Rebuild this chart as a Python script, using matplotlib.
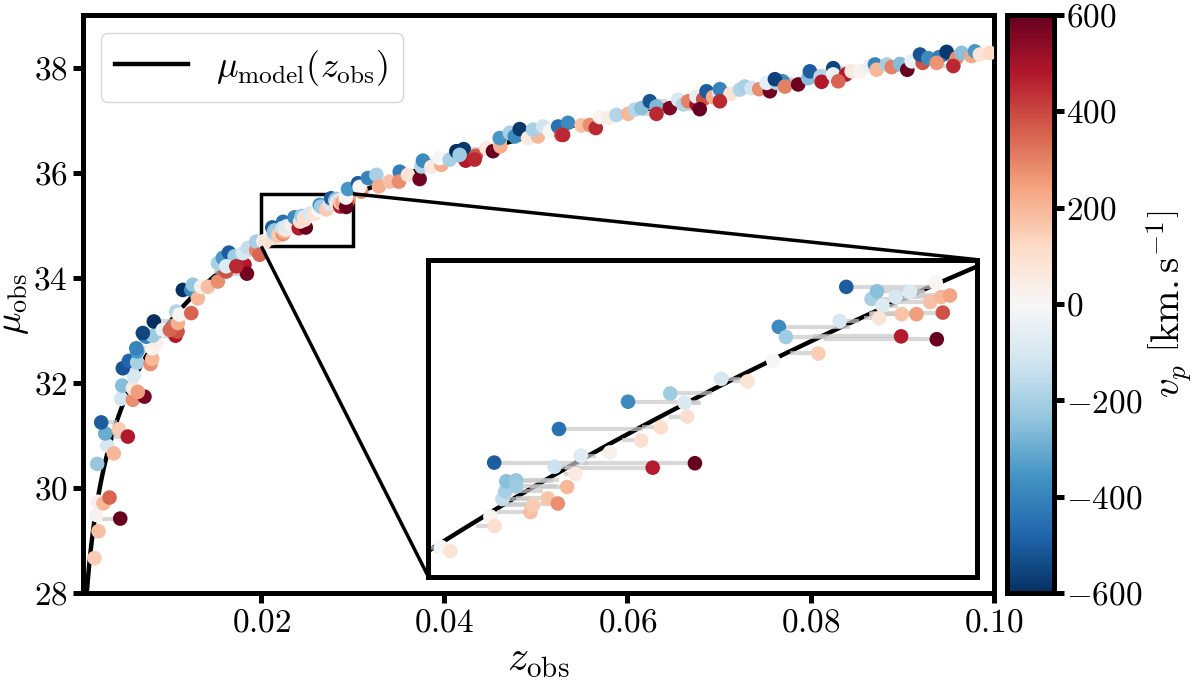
import numpy as np
import matplotlib
matplotlib.use('Agg')
import matplotlib.pyplot as plt
from mpl_toolkits.axes_grid1.inset_locator import mark_inset

plt.rcParams['font.family'] = 'serif'
plt.rcParams['font.serif'] = ['cmr10']
plt.rcParams['mathtext.fontset'] = 'cm'
plt.rcParams['axes.formatter.use_mathtext'] = True

z_low = [0.00178, 0.00222, 0.00197, 0.00459, 0.00214, 0.00276, 0.00342, 0.00207, 0.00317, 0.00389,
         0.00295, 0.00251, 0.00444, 0.00542, 0.00470, 0.00597, 0.00724, 0.00481, 0.00597, 0.00651,
         0.00607, 0.00487, 0.00553, 0.00644, 0.00644, 0.00790, 0.00809, 0.00809, 0.00852, 0.00724,
         0.00743, 0.00815, 0.01063, 0.01085, 0.00634, 0.00706, 0.00826, 0.00924, 0.01001, 0.01089,
         0.01071, 0.01107, 0.01235, 0.01143, 0.01235, 0.01252, 0.01307, 0.01344, 0.01416, 0.01526,
         0.01617, 0.01526, 0.01580, 0.01646, 0.01708, 0.01617, 0.01817, 0.01843, 0.01727, 0.01799,
         0.01854, 0.01945, 0.01945, 0.01981]
mu_low = [28.67, 29.18, 29.49, 29.42, 29.74, 29.71, 29.82, 30.46, 30.81, 30.66,
          31.04, 31.25, 31.12, 30.98, 31.70, 31.68, 31.74, 31.95, 31.90, 31.83,
          32.14, 32.28, 32.42, 32.39, 32.60, 32.36, 32.46, 32.66, 32.76, 32.91,
          32.88, 32.90, 32.90, 32.98, 32.66, 32.95, 33.17, 33.01, 33.01, 33.14,
          33.36, 33.30, 33.33, 33.77, 33.77, 33.87, 33.61, 33.83, 33.83, 33.93,
          34.12, 34.28, 34.38, 34.48, 34.41, 34.22, 34.25, 34.08, 34.22, 34.47,
          34.57, 34.53, 34.69, 34.44]
v_low = [150, 180, 20, 600, 30, 200, 350, -230, -100, 200,
         -300, -500, 150, 480, -120, 280, 570, -260, 60, 250,
         -100, -520, -480, -200, -350, 280, 200, 20, 30, -500,
         -400, -220, 480, 380, -400, -550, -600, -50, 350, 220,
         -180, 10, 350, -600, -380, -230, 200, 30, 180, 280,
         380, -200, -350, -500, -220, -80, 480, 580, 450, -100,
         -150, 300, -200, 350]

# points inside the zoomed window (0.02 < z < 0.03)
z_mid = [0.02023, 0.02040, 0.02113, 0.02121, 0.02120, 0.02135, 0.02140, 0.02142, 0.02160, 0.02160,
         0.02186, 0.02191, 0.02218, 0.02236, 0.02253, 0.02238, 0.02230, 0.02268, 0.02278, 0.02331,
         0.02388, 0.02409, 0.02486, 0.02364, 0.02424, 0.02441, 0.02467, 0.02472, 0.02534, 0.02582,
         0.02629, 0.02639, 0.02652, 0.02711, 0.02750, 0.02762, 0.02808, 0.02818, 0.02828, 0.02822,
         0.02852, 0.02878, 0.02862, 0.02863, 0.02890, 0.02915, 0.02935, 0.02951, 0.02938, 0.02927,
         0.02925]
mu_mid = [34.694, 34.681, 34.790, 34.760, 34.960, 34.845, 34.869, 34.901, 34.904, 34.885,
          34.804, 34.826, 34.847, 34.831, 34.883, 35.066, 34.947, 34.924, 34.982, 34.992,
          35.030, 34.944, 34.958, 35.152, 35.071, 35.178, 35.149, 35.105, 35.224, 35.216,
          35.281, 35.388, 35.356, 35.304, 35.406, 35.514, 35.476, 35.500, 35.455, 35.415,
          35.482, 35.498, 35.358, 35.428, 35.428, 35.466, 35.482, 35.487, 35.433, 35.349,
          35.528]
v_mid = [0, 80, 10, 100, -500, -150, -200, -250, -230, -220,
         180, 150, 170, 280, 200, -450, -130, 60, -80, 30,
         100, 470, 600, -380, 100, -220, -90, 100, -100, 80,
         0, -380, -220, 150, -100, -500, -200, -250, -80, 80,
         -100, -80, 470, 170, 250, 180, 200, 240, 380, 600,
         10]

z_high = [0.02947, 0.03056, 0.03093, 0.03074, 0.03165, 0.03257, 0.03285, 0.03402, 0.03512, 0.03504,
          0.03602, 0.03730, 0.03749, 0.03766, 0.03858, 0.03967, 0.03949, 0.04058, 0.04131, 0.04211,
          0.04233, 0.04167, 0.04342, 0.04331, 0.04459, 0.04531, 0.04605, 0.04612, 0.04605, 0.04714,
          0.04769, 0.04823, 0.04914, 0.05023, 0.04969, 0.05078, 0.05151, 0.05242, 0.05279,
          0.05351, 0.05297, 0.05498, 0.05589, 0.05654, 0.05698, 0.05789, 0.05880, 0.06007, 0.06080,
          0.06153, 0.06244, 0.06317, 0.06317, 0.06463, 0.06554, 0.06609, 0.06663, 0.06755, 0.06755,
          0.06827, 0.06864, 0.06936, 0.07002, 0.07010, 0.07126, 0.07228, 0.07283, 0.07356, 0.07439,
          0.07556, 0.07520, 0.07629, 0.07695, 0.07611, 0.06790, 0.07010,
          0.07720, 0.07865, 0.07975, 0.07993, 0.08110, 0.08121, 0.08248, 0.08248, 0.08387, 0.08449,
          0.08540, 0.08649, 0.08704, 0.08722, 0.08832, 0.08886, 0.08977, 0.09057, 0.09105, 0.09225,
          0.09196, 0.09286, 0.09406, 0.09378, 0.09487, 0.09596, 0.09651, 0.09760, 0.09796, 0.09850,
          0.09959, 0.08303, 0.09560]
mu_high = [35.69, 35.80, 35.64, 35.73, 35.90, 35.96, 35.74, 35.83, 36.02, 35.83,
           35.96, 35.88, 36.12, 36.23, 36.11, 36.15, 36.28, 36.25, 36.41, 36.45,
           36.23, 36.34, 36.32, 36.25, 36.47, 36.41, 36.57, 36.50, 36.66, 36.76,
           36.69, 36.83, 36.66, 36.69, 36.82, 36.88, 36.79, 36.88, 36.72,
           36.95, 36.72, 36.90, 36.91, 36.85, 37.06, 37.04, 37.10, 37.12, 37.20,
           37.23, 37.36, 37.26, 37.12, 37.23, 37.39, 37.30, 37.36, 37.30, 37.45,
           37.40, 37.55, 37.44, 37.52, 37.59, 37.50, 37.58, 37.64, 37.61, 37.59,
           37.55, 37.71, 37.71, 37.74, 37.78, 37.21, 37.36,
           37.64, 37.68, 37.80, 37.93, 37.83, 37.73, 37.99, 37.87, 37.87, 37.93,
           37.93, 38.03, 38.06, 37.96, 38.06, 38.01, 38.07, 37.96, 38.12, 38.09,
           38.25, 38.18, 38.20, 38.09, 38.30, 38.18, 38.28, 38.22, 38.31, 38.25,
           38.28, 37.74, 38.03]
v_high = [-350, -500, 280, 0, -400, -200, 220, 180, -420, 280,
          80, 580, -180, -380, 60, 220, 0, -200, -600, -580,
          480, -220, 380, 450, 60, 600, -80, 220, -350, -200,
          -380, -580, 60, 200, -200, -120, 0, -450, 400,
          -380, 450, 180, 280, 450, 10, 40, -180, 200, -170,
          -250, -520, -270, 450, 560, -100, -180, 300, 500, -50,
          380, -500, 220, -100, -400, 80, -180, -200, -120, 280,
          580, -60, -180, -380, -560, 600, 450,
          300, 590, -260, -500, -170, 480, -550, -40, 480, 60,
          20, -50, -400, 200, -200, 300, -260, 600, -40, 380,
          -520, -380, -420, 270, -580, 280, -250, 230, -350, 80,
          120, 350, 450]

# model cosmology used for mu_model(z)
H0 = 70.5
Om = 0.3
c_kms = 299792.458


def mu_model(z):
    zz = np.linspace(0, z.max(), 4000)
    inv_E = 1.0 / np.sqrt(Om * (1 + zz) ** 3 + 1 - Om)
    dc = np.concatenate([[0], np.cumsum(0.5 * (inv_E[1:] + inv_E[:-1]) * np.diff(zz))])
    dl = (1 + z) * c_kms / H0 * np.interp(z, zz, dc)
    return 5 * np.log10(dl) + 25


z_obs = np.array(z_low + z_mid + z_high)
mu_obs = np.array(mu_low + mu_mid + mu_high)
v_p = np.array(v_low + v_mid + v_high)
z_cos = (1 + z_obs) / (1 + v_p / c_kms) - 1

z_line = np.geomspace(5e-4, 0.1, 600)
mu_line = mu_model(z_line)

fig = plt.figure(figsize=(12, 6.85), dpi=100)
ax = fig.add_axes([0.069, 0.134, 0.759, 0.844])
cax = fig.add_axes([0.839, 0.134, 0.039, 0.844])
axins = fig.add_axes([0.357, 0.158, 0.457, 0.463])

for a in (ax, axins):
    a.plot(z_line, mu_line, color='k', lw=3.2, zorder=1,
           label=r'$\mu_{\rm model}(z_{\rm obs})$')
    a.hlines(mu_obs, z_obs, z_cos, color='#c8c8c8', lw=3, alpha=0.7, zorder=2)
    sc = a.scatter(z_obs, mu_obs, c=v_p, cmap='RdBu_r', vmin=-600, vmax=600,
                   s=110, edgecolors='none', zorder=3)
    for s in a.spines.values():
        s.set_linewidth(3.6)

ax.set_xlim(0.0005, 0.1)
ax.set_ylim(28, 39)
ax.set_xticks([0.02, 0.04, 0.06, 0.08, 0.10])
ax.set_yticks([28, 30, 32, 34, 36, 38])
ax.tick_params(direction='out', length=7, width=3.6, labelsize=24, pad=4)
ax.set_xlabel(r'$z_{\rm obs}$', fontsize=30)
ax.set_ylabel(r'$\mu_{\rm obs}$', fontsize=27)
ax.yaxis.set_label_coords(-0.057, 0.5)
ax.xaxis.set_label_coords(0.5, -0.085)
ax.legend(loc='upper left', fontsize=26, handlelength=2.0, borderpad=0.4)

axins.set_xlim(0.02, 0.03)
axins.set_ylim(34.6, 35.6)
axins.set_xticks([])
axins.set_yticks([])
mark_inset(ax, axins, loc1=1, loc2=3, fc='none', ec='k', lw=2.5)

cb = fig.colorbar(sc, cax=cax)
cb.set_ticks([-600, -400, -200, 0, 200, 400, 600])
cb.outline.set_linewidth(3.6)
cax.tick_params(direction='out', length=7, width=3.6, labelsize=24, pad=2)
cb.set_label(r'$v_p\ \left[\mathrm{km{.}s}^{-1}\right]$', fontsize=28)
cax.yaxis.set_label_coords(2.95, 0.5)

fig.savefig('out.png', dpi=100)
